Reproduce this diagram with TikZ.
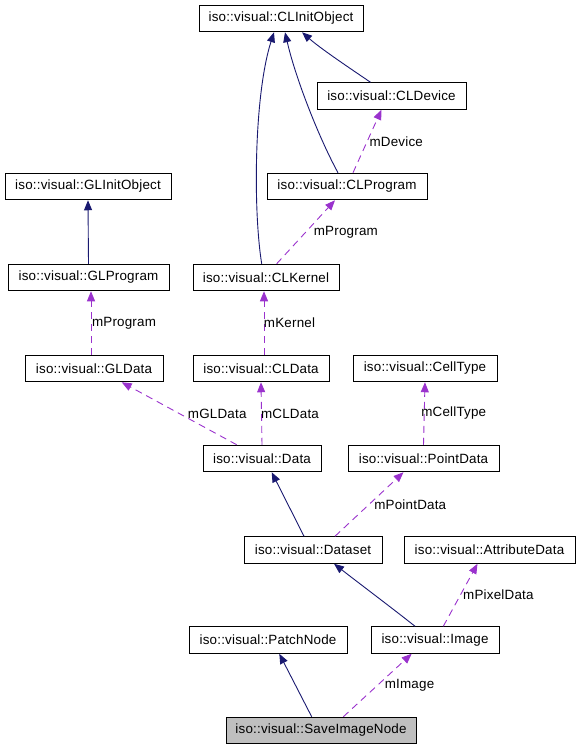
\documentclass[tikz,border=0pt]{standalone}
\usepackage{fontspec}
\setmainfont{Liberation Sans}[LetterSpace=1.5]
\usetikzlibrary{arrows.meta}
\definecolor{inh}{HTML}{191970}
\definecolor{use}{HTML}{9A32CD}
\begin{document}
\begin{tikzpicture}[x=1pt,y=-1pt,
  cls/.style={draw=black,line width=1pt,minimum height=26.5pt,inner sep=0pt,font=\fontsize{13.4}{15}\selectfont,fill=white},
  inhedge/.style={draw=inh,line width=0.9pt,-{Triangle[length=10pt,width=8pt]}},
  useedge/.style={draw=use,line width=0.9pt,dash pattern=on 7pt off 5pt,-{Triangle[length=10pt,width=8pt]}},
  lbl/.style={font=\fontsize{13.4}{15}\selectfont,inner sep=0pt}]
\useasboundingbox (0,0) rectangle (580,749);
% nodes
\node[cls,minimum width=164pt] (cli) at (281,18.5) {iso::visual::CLInitObject};
\node[cls,minimum width=149pt] (cld) at (391.5,96) {iso::visual::CLDevice};
\node[cls,minimum width=160pt] (clp) at (347,186.5) {iso::visual::CLProgram};
\node[cls,minimum width=166pt] (gli) at (88,186.5) {iso::visual::GLInitObject};
\node[cls,minimum width=161pt] (glp) at (88.5,277.5) {iso::visual::GLProgram};
\node[cls,minimum width=146pt] (clk) at (266,277.5) {iso::visual::CLKernel};
\node[cls,minimum width=138pt] (gld) at (94,368.5) {iso::visual::GLData};
\node[cls,minimum width=136pt] (cldata) at (261,368.5) {iso::visual::CLData};
\node[cls,minimum width=144pt] (ct) at (425,368.5) {iso::visual::CellType};
\node[cls,minimum width=118pt] (data) at (262,458.5) {iso::visual::Data};
\node[cls,minimum width=151pt] (pd) at (423.5,458.5) {iso::visual::PointData};
\node[cls,minimum width=138pt] (ds) at (313,550) {iso::visual::Dataset};
\node[cls,minimum width=171pt] (ad) at (489.5,550) {iso::visual::AttributeData};
\node[cls,minimum width=158pt] (pn) at (268,640) {iso::visual::PatchNode};
\node[cls,minimum width=128pt] (img) at (435,640) {iso::visual::Image};
\node[cls,minimum width=190pt,fill=black!25] (sin) at (321,730.5) {iso::visual::SaveImageNode};
% inheritance edges
\draw[inhedge] ([xshift=-4.3pt]clk.north) .. controls (253,210) and (254,95) .. ([xshift=-7pt]cli.south);
\draw[inhedge] ([xshift=-9pt]clp.north) .. controls (320,140) and (296,80) .. ([xshift=4pt]cli.south);
\draw[inhedge] ([xshift=-21pt]cld.north) .. controls (345,65) and (320,48) .. ([xshift=21pt]cli.south);
\draw[inhedge] (glp.north) -- (gli.south);
\draw[inhedge] ([xshift=-9pt]ds.north) -- ([xshift=9.7pt]data.south);
\draw[inhedge] ([xshift=-20pt]img.north) .. controls (392,608) and (360,584) .. ([xshift=21pt]ds.south);
\draw[inhedge] ([xshift=-9.3pt]sin.north) -- ([xshift=11.3pt]pn.south);
% usage edges
\draw[useedge] ([xshift=6pt]clp.north) -- node[lbl,pos=0.5,xshift=29pt]{mDevice} ([xshift=-10pt]cld.south);
\draw[useedge] ([xshift=10.7pt]clk.north) -- node[lbl,pos=0.5,xshift=40pt]{mProgram} ([xshift=-12pt]clp.south);
\draw[useedge] ([xshift=-3pt]gld.north) -- node[lbl,pos=0.5,xshift=33pt]{mProgram} ([xshift=2.5pt]glp.south);
\draw[useedge] ([xshift=3pt]cldata.north) -- node[lbl,pos=0.5,xshift=25.5pt]{mKernel} ([xshift=-2pt]clk.south);
\draw[useedge] ([xshift=-25.3pt]data.north) -- node[lbl,pos=0.5,xshift=38pt]{mGLData} ([xshift=27.7pt]gld.south);
\draw[useedge] (data.north) -- node[lbl,pos=0.5,xshift=28.5pt]{mCLData} (cldata.south);
\draw[useedge] (pd.north) -- node[lbl,pos=0.5,xshift=29.5pt]{mCellType} (ct.south);
\draw[useedge] ([xshift=22pt]ds.north) -- node[lbl,pos=0.5,xshift=41pt]{mPointData} ([xshift=-20pt]pd.south);
\draw[useedge] ([xshift=8.3pt]img.north) -- node[lbl,pos=0.5,xshift=38pt]{mPixelData} ([xshift=-12pt]ad.south);
\draw[useedge] ([xshift=22.3pt]sin.north) -- node[lbl,pos=0.5,xshift=32pt]{mImage} ([xshift=-23.3pt]img.south);
\end{tikzpicture}
\end{document}
